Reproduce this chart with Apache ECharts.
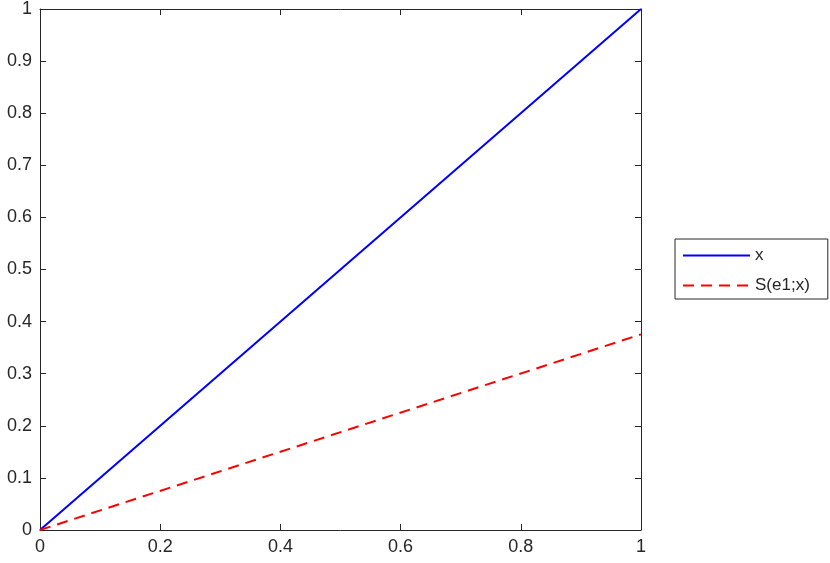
<!DOCTYPE html>
<html><head><meta charset="utf-8">
<script src="https://cdn.jsdelivr.net/npm/echarts@6/dist/echarts.min.js"></script>
<style>html,body{margin:0;padding:0;background:#fff}#c{width:830px;height:563px}</style>
</head><body><div id="c"></div>
<script>
const xValues = [0, 1];
const seriesX = [0, 1];
const seriesS = [0, 0.3755];
const seriesNames = ['x', 'S(e1;x)'];

const chart = echarts.init(document.getElementById('c'));
const axisCol = '#262626';
const fontFam = '"Liberation Sans", Arial, sans-serif';
const fmt = v => String(Math.round(v * 10) / 10);
function axisCommon(pos, interval, showLabel) {
  return {
    type: 'value', min: 0, max: 1, position: pos, interval: interval,
    axisLine: { show: true, onZero: false, lineStyle: { color: axisCol, width: 1 } },
    axisTick: { show: true, inside: true, length: 6, lineStyle: { color: axisCol } },
    splitLine: { show: false },
    axisLabel: showLabel
      ? { show: true, color: axisCol, fontSize: 18, fontFamily: fontFam, formatter: fmt, margin: 8 }
      : { show: false }
  };
}

chart.setOption({
  animation: false,
  backgroundColor: '#fff',
  grid: { left: 40, top: 8, width: 601, height: 522, containLabel: false },
  xAxis: [axisCommon('bottom', 0.2, true), axisCommon('top', 0.2, false)],
  yAxis: [axisCommon('left', 0.1, true), axisCommon('right', 0.1, false)],
  legend: {
    orient: 'vertical', left: 675, top: 239,
    borderColor: axisCol, borderWidth: 1, borderRadius: 0,
    padding: [8, 18, 5, 7],
    itemWidth: 67, itemHeight: 14, itemGap: 13,
    backgroundColor: '#fff',
    itemStyle: { opacity: 0 },
    textStyle: { fontSize: 17, fontFamily: fontFam, color: axisCol },
    data: seriesNames
  },
  series: [
    { name: seriesNames[0], type: 'line', showSymbol: false, symbol: 'none',
      data: xValues.map((x, i) => [x, seriesX[i]]),
      lineStyle: { color: '#0000ff', width: 2 }, itemStyle: { color: '#0000ff' } },
    { name: seriesNames[1], type: 'line', showSymbol: false, symbol: 'none',
      data: xValues.map((x, i) => [x, seriesS[i]]),
      lineStyle: { color: '#ff0000', width: 2, type: [11, 7] }, itemStyle: { color: '#ff0000' } }
  ]
});
</script></body></html>
